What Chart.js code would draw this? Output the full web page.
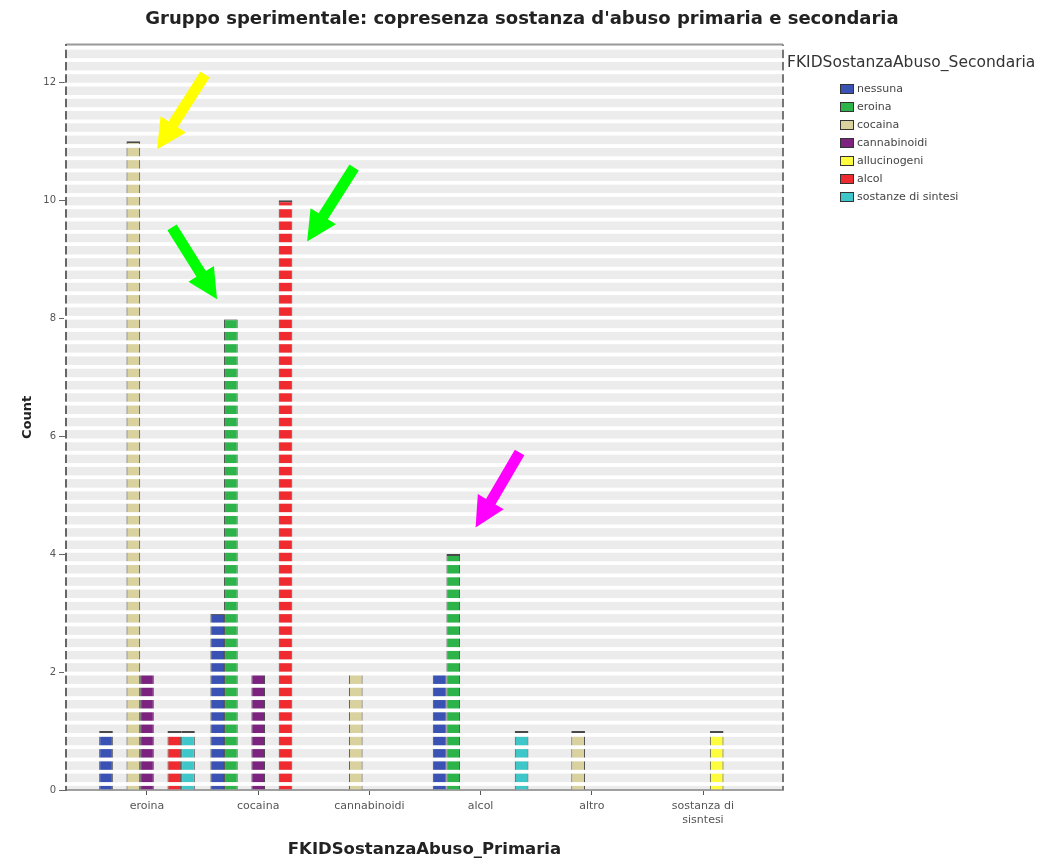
<!DOCTYPE html>
<html>
<head>
<meta charset="utf-8">
<script src="https://cdn.jsdelivr.net/npm/chart.js@4.4.0/dist/chart.umd.min.js"></script>
<style>
  body { margin: 0; background: #fff; }
  #wrap { width: 1044px; height: 864px; }
</style>
</head>
<body>
<div id="wrap"><canvas id="chart" width="1044" height="864"></canvas></div>
<script>
// primary substance categories (x axis)
var primaryLabels = ['eroina', 'cocaina', 'cannabinoidi', 'alcol', 'altro', ['sostanza di', 'sisntesi']];
// secondary substance series (legend)
var secondaryLabels = ['nessuna', 'eroina', 'cocaina', 'cannabinoidi', 'allucinogeni', 'alcol', 'sostanze di sintesi'];
var secondaryColors = ['#3a52b4', '#2cb34a', '#d9d19e', '#7c237f', '#fdfc3e', '#ef2b2f', '#3fc6c9'];

// counts for each secondary substance, one value per primary category
var nessuna         = [1, 3, 0, 2, 0, 0];
var eroina          = [0, 8, 0, 4, 0, 0];
var cocaina         = [11, 0, 2, 0, 1, 0];
var cannabinoidi    = [2, 2, 0, 0, 0, 0];
var allucinogeni    = [0, 0, 0, 0, 0, 1];
var alcol           = [1, 10, 0, 0, 0, 0];
var sostanzeSintesi = [1, 0, 0, 1, 0, 0];
var seriesValues = [nessuna, eroina, cocaina, cannabinoidi, allucinogeni, alcol, sostanzeSintesi];

var yTicks = [0, 2, 4, 6, 8, 10, 12];

// highlight arrows: tip in data units, tail offset in px
var arrows = [
  { x: 0.09, y: 10.86, dx: 48, dy: -75, color: '#ffff00' },
  { x: 0.63, y: 8.32, dx: -45, dy: -72, color: '#00ff00' },
  { x: 1.44, y: 9.30, dx: 47, dy: -74, color: '#00ff00' },
  { x: 2.955, y: 4.45, dx: 44, dy: -75, color: '#ff00ff' }
];

var datasets = [];
for (var s = 0; s < seriesValues.length; s++) {
  var pts = [];
  for (var i = 0; i < seriesValues[s].length; i++) {
    if (seriesValues[s][i] > 0) pts.push({ x: i, y: seriesValues[s][i] });
  }
  datasets.push({
    label: secondaryLabels[s],
    data: pts,
    yAxisID: 'y',
    backgroundColor: secondaryColors[s],
    borderColor: 'rgba(45,45,45,0.85)',
    borderWidth: { left: 1, right: 1, top: 2, bottom: 0 },
    categoryPercentage: 0.86,
    barPercentage: 1.0
  });
}

// plot background, top frame line and right border
var frame = {
  id: 'frame',
  beforeDraw: function(chart) {
    var a = chart.chartArea, ctx = chart.ctx;
    ctx.save();
    ctx.fillStyle = '#ffffff';
    ctx.fillRect(0, 0, chart.width, chart.height);
    ctx.fillStyle = '#ececec';
    ctx.fillRect(a.left, a.top, a.right - a.left, a.bottom - a.top);
    ctx.strokeStyle = '#9a9a9a';
    ctx.lineWidth = 2;
    ctx.beginPath();
    ctx.moveTo(a.left, a.top);
    ctx.lineTo(a.right, a.top);
    ctx.stroke();
    ctx.restore();
  },
  beforeDatasetsDraw: function(chart) {
    var a = chart.chartArea, ctx = chart.ctx;
    ctx.save();
    ctx.strokeStyle = '#777';
    ctx.lineWidth = 2;
    ctx.beginPath();
    ctx.moveTo(a.right, a.top);
    ctx.lineTo(a.right, a.bottom);
    ctx.stroke();
    ctx.restore();
  },
  // white horizontal bands over the plot
  afterDatasetsDraw: function(chart) {
    var a = chart.chartArea, ctx = chart.ctx;
    ctx.save();
    ctx.fillStyle = '#ffffff';
    for (var y = a.top + 1.3; y < a.bottom - 4; y += 12.27) {
      ctx.fillRect(a.left - 2, y, a.right - a.left + 4, 3.8);
    }
    ctx.restore();
  }
};

var overlay = {
  id: 'overlay',
  afterDraw: function(chart) {
    var ctx = chart.ctx, xs = chart.scales.x, ys = chart.scales.y;
    ctx.save();
    // arrows
    arrows.forEach(function(ar) {
      var tx = xs.getPixelForValue(ar.x), ty = ys.getPixelForValue(ar.y);
      var fx = tx + ar.dx, fy = ty + ar.dy;
      var ang = Math.atan2(ty - fy, tx - fx);
      var headLen = 30, headHalf = 15, shaft = 5.5;
      var bx = tx - headLen * Math.cos(ang), by = ty - headLen * Math.sin(ang);
      var nx = -Math.sin(ang), ny = Math.cos(ang);
      ctx.fillStyle = ar.color;
      ctx.beginPath();
      ctx.moveTo(fx + nx * shaft, fy + ny * shaft);
      ctx.lineTo(bx + nx * shaft, by + ny * shaft);
      ctx.lineTo(bx + nx * headHalf, by + ny * headHalf);
      ctx.lineTo(tx, ty);
      ctx.lineTo(bx - nx * headHalf, by - ny * headHalf);
      ctx.lineTo(bx - nx * shaft, by - ny * shaft);
      ctx.lineTo(fx - nx * shaft, fy - ny * shaft);
      ctx.closePath();
      ctx.fill();
    });
    // legend
    ctx.fillStyle = '#333';
    ctx.font = '15.5px "DejaVu Sans"';
    ctx.textBaseline = 'middle';
    ctx.textAlign = 'left';
    ctx.fillText('FKIDSostanzaAbuso_Secondaria', 787, 63);
    ctx.font = '11px "DejaVu Sans"';
    for (var i = 0; i < chart.data.datasets.length; i++) {
      var ds = chart.data.datasets[i];
      var y = 89 + 18 * i;
      ctx.fillStyle = ds.backgroundColor;
      ctx.fillRect(840, y - 5, 14, 10);
      ctx.strokeStyle = '#333';
      ctx.lineWidth = 1;
      ctx.strokeRect(840.5, y - 4.5, 13, 9);
      ctx.fillStyle = '#444';
      ctx.fillText(ds.label, 857, y);
    }
    ctx.restore();
  }
};

var ctx = document.getElementById('chart').getContext('2d');
new Chart(ctx, {
  type: 'bar',
  data: { datasets: datasets },
  plugins: [frame, overlay],
  options: {
    responsive: false,
    animation: false,
    devicePixelRatio: 1,
    plugins: {
      legend: { display: false },
      tooltip: { enabled: false },
      title: {
        display: true,
        text: "Gruppo sperimentale: copresenza sostanza d'abuso primaria e secondaria",
        color: '#222',
        font: { family: 'DejaVu Sans', size: 18, weight: 'bold' },
        padding: { top: 9, bottom: 14 }
      }
    },
    scales: {
      x: {
        type: 'linear',
        offset: false,
        min: -0.7284,
        max: 5.7194,
        grid: { offset: false, drawOnChartArea: false, drawTicks: true, tickLength: 5, tickColor: '#555' },
        border: { display: true, color: '#a0a0a0', width: 2 },
        afterBuildTicks: function(scale) {
          scale.ticks = primaryLabels.map(function(l, i) { return { value: i }; });
        },
        afterFit: function(scale) { scale.height = 74; },
        ticks: {
          autoSkip: false,
          maxRotation: 0,
          padding: 5,
          color: '#555',
          font: { family: 'DejaVu Sans', size: 11 },
          callback: function(v) { return primaryLabels[v]; }
        },
        title: {
          display: true,
          text: 'FKIDSostanzaAbuso_Primaria',
          color: '#222',
          font: { family: 'DejaVu Sans', size: 16.5, weight: 'bold' },
          padding: { top: 0, bottom: 4 }
        }
      },
      y: {
        min: 0,
        max: 12.64,
        grid: { drawOnChartArea: false, drawTicks: true, tickLength: 7, tickColor: '#666' },
        border: { display: true, color: '#666', width: 2 },
        afterBuildTicks: function(scale) {
          scale.ticks = yTicks.map(function(v) { return { value: v }; });
        },
        afterFit: function(scale) { scale.width = 66; },
        ticks: {
          padding: 3,
          color: '#555',
          font: { family: 'DejaVu Sans', size: 10 }
        },
        title: {
          display: true,
          text: 'Count',
          color: '#222',
          font: { family: 'DejaVu Sans', size: 13, weight: 'bold' },
          padding: { top: 20, bottom: 0 }
        }
      },
      // empty right-side axis that keeps room for the legend
      legendSpace: {
        type: 'linear',
        position: 'right',
        display: true,
        grid: { display: false, drawTicks: false },
        border: { display: false },
        ticks: { display: false },
        afterFit: function(scale) { scale.width = 261; }
      }
    }
  }
});
</script>
</body>
</html>
